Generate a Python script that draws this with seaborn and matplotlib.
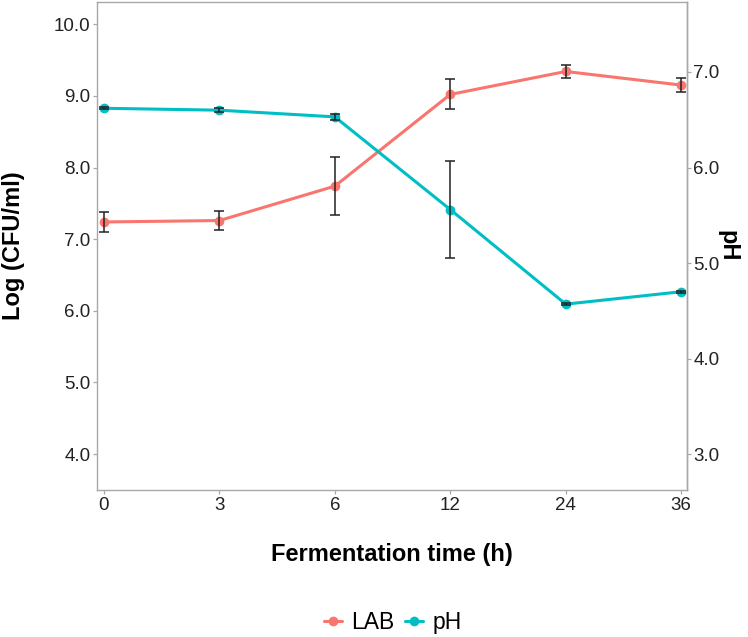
import matplotlib
matplotlib.use("Agg")
import matplotlib.pyplot as plt
from matplotlib.lines import Line2D
import seaborn as sns
import numpy as np
import pandas as pd

# data
time_labels = ["0", "3", "6", "12", "24", "36"]
lab_mean = [7.24, 7.26, 7.74, 9.02, 9.34, 9.15]
lab_sd = [0.14, 0.13, 0.40, 0.21, 0.095, 0.10]
ph_mean = [6.62, 6.60, 6.53, 5.56, 4.57, 4.70]
ph_sd = [0.01, 0.02, 0.03, 0.51, 0.01, 0.01]

scale = 0.75  # pH = 0.75 * Log axis (secondary axis transform)

sns.set_theme(style="white")
plt.rcParams["font.family"] = ["Liberation Sans", "DejaVu Sans"]

lab_col = "#F8766D"
ph_col = "#00BFC4"
frame_col = "#A8A8A8"
txt_col = "#222222"

pos = np.arange(len(time_labels))
df = pd.DataFrame({
    "pos": np.concatenate([pos, pos]),
    "value": np.concatenate([lab_mean, np.array(ph_mean) / scale]),
    "series": ["LAB"] * len(pos) + ["pH"] * len(pos),
})

fig = plt.figure(figsize=(7.48, 6.37), dpi=100)
ax = fig.add_axes([0.1297, 0.2308, 0.7887, 0.7661])

sns.lineplot(data=df, x="pos", y="value", hue="series",
             palette={"LAB": lab_col, "pH": ph_col},
             marker="o", markersize=7, markeredgewidth=0,
             linewidth=2.2, legend=False, ax=ax, zorder=2)

ax.errorbar(pos, lab_mean, yerr=lab_sd, fmt="none", ecolor=txt_col,
            elinewidth=1.1, capsize=3.6, capthick=1.1, zorder=3)
ax.errorbar(pos, np.array(ph_mean) / scale, yerr=np.array(ph_sd) / scale,
            fmt="none", ecolor=txt_col, elinewidth=1.1, capsize=3.6,
            capthick=1.1, zorder=3)

ax.set_xlim(-0.06, 5.05)
ax.set_ylim(3.5, 10.31)
ax.set_xticks(pos)
ax.set_xticklabels(time_labels)
ax.set_yticks([4, 5, 6, 7, 8, 9, 10])
ax.set_yticklabels([f"{v:.1f}" for v in [4, 5, 6, 7, 8, 9, 10]])

for s in ax.spines.values():
    s.set_visible(True)
    s.set_color(frame_col)
    s.set_linewidth(1.0)

ax.tick_params(axis="both", which="both", length=3.2, width=0.9,
               color=frame_col, labelsize=13.5, labelcolor=txt_col,
               left=True, bottom=True, pad=1.5)

ax.set_xlabel("Fermentation time (h)", fontsize=17, fontweight="bold",
              color="black", labelpad=21)
ax.set_ylabel("Log (CFU/ml)", fontsize=17, fontweight="bold",
              color="black", labelpad=21)

sec = ax.secondary_yaxis("right", functions=(lambda y: y * scale,
                                            lambda y: y / scale))
sec.set_yticks([3, 4, 5, 6, 7])
sec.set_yticklabels([f"{v:.1f}" for v in [3, 4, 5, 6, 7]])
sec.spines["right"].set_color(frame_col)
sec.spines["right"].set_linewidth(1.0)
sec.tick_params(axis="y", length=3.2, width=0.9, color=frame_col,
                labelsize=13.5, labelcolor=txt_col, pad=1.5)
sec.set_ylabel("pH", fontsize=17, fontweight="bold", color="black",
               rotation=-90, labelpad=14)

handles = [
    Line2D([0], [0], color=lab_col, lw=2.2, marker="o", markersize=7,
           markeredgewidth=0, label="LAB"),
    Line2D([0], [0], color=ph_col, lw=2.2, marker="o", markersize=7,
           markeredgewidth=0, label="pH"),
]
fig.legend(handles=handles, loc="center", bbox_to_anchor=(0.525, 0.0235),
           ncol=2, frameon=False, fontsize=16.5, handlelength=0.8,
           handletextpad=0.4, columnspacing=0.45, labelcolor="black")

fig.savefig("out.png", dpi=100)
